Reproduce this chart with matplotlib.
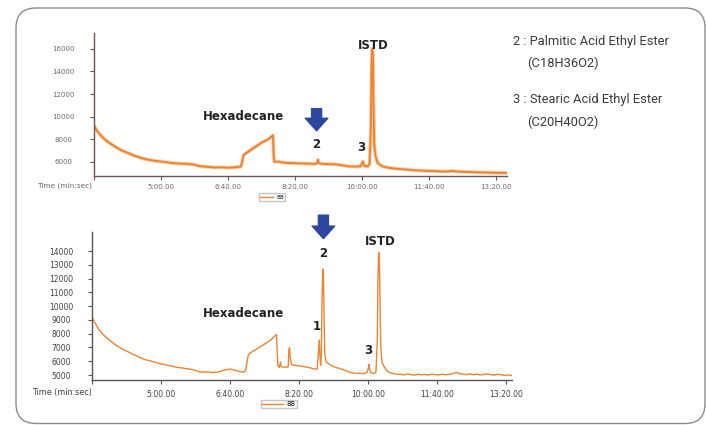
import matplotlib
matplotlib.use("Agg")
import matplotlib.pyplot as plt
from matplotlib.patches import FancyBboxPatch
from matplotlib.lines import Line2D

# ---------------- data (time in seconds, signal in counts) ----------------
top_time = [200, 205, 210, 215, 220, 230, 240, 250, 260, 270, 280, 290, 300, 310,
            320, 330, 340, 350, 355, 360, 370, 380, 390, 400, 410, 419, 421, 423,
            430, 440, 450, 460, 467, 468, 469, 475, 480, 490, 500, 510, 520, 530,
            533, 534, 535, 540, 550, 560, 570, 580, 590, 598, 601, 603, 608, 611,
            613, 614, 615, 616, 617, 618, 620, 623, 630, 640, 650, 660, 670, 680,
            690, 700, 710, 720, 730, 735, 740, 750, 760, 770, 780, 790, 800, 816]
top_signal = [9200, 8700, 8350, 8050, 7800, 7400, 7050, 6800, 6550, 6350, 6200, 6100, 6030, 5950,
              5880, 5840, 5820, 5750, 5650, 5600, 5560, 5500, 5520, 5480, 5520, 5580, 6000, 6600,
              6900, 7300, 7700, 8000, 8340, 6500, 6000, 6030, 5950, 5900, 5880, 5860, 5840, 5820,
              5900, 6180, 5900, 5820, 5800, 5780, 5700, 5600, 5580, 5620, 6030, 5650, 5600, 5800,
              9000, 14500, 16000, 15500, 11000, 7500, 6500, 5900, 5600, 5470, 5400, 5350, 5300, 5250,
              5220, 5200, 5180, 5150, 5160, 5200, 5150, 5120, 5100, 5080, 5060, 5050, 5030, 5020]

bottom_time = [200, 203, 206, 210, 215, 220, 225, 230, 235, 240, 245, 250, 255, 260, 265,
               270, 275, 280, 285, 290, 295, 300, 305, 310, 315, 320, 325, 330, 335, 340,
               345, 350, 355, 360, 365, 370, 375, 380, 385, 390, 395, 400, 405, 410, 415,
               419, 422, 424, 426, 428, 432, 436, 440, 445, 450, 455, 460, 464, 467, 468,
               469, 471, 473, 474, 478, 482, 484, 485, 486, 487, 489, 493, 498, 503, 508,
               513, 518, 523, 526, 528, 529, 530, 531, 532, 533, 534, 535, 536, 537, 539,
               543, 548, 553, 558, 563, 568, 573, 578, 583, 588, 593, 598, 600, 601, 602,
               604, 608, 611, 613, 614, 615, 616, 617, 618, 620, 623, 627, 632, 637, 642,
               647, 652, 657, 662, 667, 672, 677, 682, 687, 692, 697, 702, 707, 712, 717,
               722, 727, 732, 737, 742, 747, 752, 757, 762, 767, 772, 777, 782, 787, 792,
               797, 802, 808]
bottom_signal = [9200, 8900, 8650, 8300, 8000, 7750, 7550, 7340, 7150, 7000, 6850, 6740, 6620, 6480, 6380,
                 6250, 6150, 6080, 6020, 5950, 5880, 5800, 5760, 5700, 5650, 5600, 5540, 5520, 5470, 5440,
                 5400, 5330, 5250, 5200, 5230, 5210, 5180, 5200, 5240, 5330, 5400, 5430, 5380, 5300, 5260,
                 5200, 5300, 5800, 6400, 6550, 6700, 6800, 6950, 7100, 7250, 7420, 7600, 7800, 7950, 7000,
                 5700, 5550, 5950, 5600, 5580, 5560, 5600, 6800, 7000, 6200, 5750, 5700, 5680, 5640, 5600,
                 5550, 5500, 5420, 5450, 6800, 7540, 6400, 5700, 6500, 10500, 12700, 12200, 9000, 6500, 5960,
                 5800, 5650, 5550, 5480, 5400, 5300, 5200, 5150, 5120, 5130, 5100, 5180, 5500, 5770, 5400,
                 5150, 5120, 5200, 7500, 12000, 13900, 13500, 10000, 7000, 5900, 5600, 5300, 5150, 5100, 5050,
                 5050, 5020, 5080, 5030, 5000, 5060, 5020, 5040, 5000, 5070, 5030, 5010, 5060, 5020, 5050,
                 5100, 5190, 5100, 5060, 5030, 5080, 5020, 5060, 5010, 5050, 5080, 5030, 5000, 5060, 5020,
                 4980, 5010, 4960]

x_tick_values = [200, 300, 400, 500, 600, 700, 800]
x_tick_labels = ["", "5:00.00", "6:40.00", "8:20.00", "10:00.00", "11:40.00", "13:20.00"]
top_y_ticks = [6000, 8000, 10000, 12000, 14000, 16000]
bottom_y_ticks = [5000, 6000, 7000, 8000, 9000, 10000, 11000, 12000, 13000, 14000]
legend_label = "88"
axis_title = "Time (min:sec)"
notes = ["2 : Palmitic Acid Ethyl Ester", "(C18H36O2)",
         "3 : Stearic Acid Ethyl Ester", "(C20H40O2)"]

# ---------------- figure ----------------
W, H = 706, 425
fig = plt.figure(figsize=(W / 100, H / 100), dpi=100)
fig.patch.set_facecolor("white")

# rounded frame (inches)
frame = FancyBboxPatch((16 / 100, (H - 423.5) / 100), (705 - 16) / 100, (423.5 - 8) / 100,
                       boxstyle="round,pad=0,rounding_size=0.2",
                       transform=fig.dpi_scale_trans, facecolor="none",
                       edgecolor="#8c8c8c", linewidth=1.0)
fig.patches.append(frame)

ORANGE = "#EC8431"
BLUE = "#2D46A0"
TICKFONT = ["DejaVu Sans"]
LABELFONT = ["DejaVu Sans"]


def px_axes(l, t, r, b):
    return fig.add_axes([l / W, 1 - b / H, (r - l) / W, (b - t) / H])


def style_axes(ax, spine_color, label_color):
    for s in ("top", "right"):
        ax.spines[s].set_visible(False)
    for s in ("left", "bottom"):
        ax.spines[s].set_color(spine_color)
        ax.spines[s].set_linewidth(1.0)
    ax.tick_params(axis="both", colors=spine_color, labelcolor=label_color,
                   labelsize=5.5, length=3, width=0.8)
    for lab in ax.get_xticklabels() + ax.get_yticklabels():
        lab.set_family(TICKFONT)


# ---------- top chart ----------
ax1 = px_axes(94, 33, 507, 176)
ax1.plot(top_time, top_signal, color="#F8D2AE", linewidth=2.8, solid_joinstyle="round")
ax1.plot(top_time, top_signal, color=ORANGE, linewidth=1.4, solid_joinstyle="round")
ax1.set_xlim(200, 816)
ax1.set_ylim(4750, 17400)
ax1.set_xticks(x_tick_values)
ax1.set_xticklabels(x_tick_labels)
ax1.set_yticks(top_y_ticks)
ax1.set_yticklabels([str(v) for v in top_y_ticks])
ax1.tick_params(axis="x", pad=3)
ax1.tick_params(axis="y", pad=19)
style_axes(ax1, "#6e5555", "#6a6a6a")
for lab in ax1.get_yticklabels():
    lab.set_fontsize(5)
    lab.set_horizontalalignment("center")
for lab in ax1.get_xticklabels():
    lab.set_fontsize(5)
ax1.text(-0.005, -0.07, axis_title, transform=ax1.transAxes, ha="right", va="center",
         fontsize=5.3, color="#6a6a6a", family=TICKFONT)
ax1.legend([Line2D([0], [0], color=ORANGE, lw=1.0)], [legend_label], loc="center",
           bbox_to_anchor=(272 / W, 1 - 197 / H), bbox_transform=fig.transFigure,
           fontsize=4.5, frameon=True, fancybox=False, edgecolor="#b8b8b8",
           handlelength=2.2, handletextpad=0.5, borderpad=0.15, borderaxespad=0)

ax1.text(423, 10000, "Hexadecane", ha="center", va="center", fontsize=8.5,
         fontweight="bold", color="#222222", family=LABELFONT)
ax1.text(616, 16300, "ISTD", ha="center", va="center", fontsize=8.5,
         fontweight="bold", color="#222222", family=LABELFONT, clip_on=False)
ax1.text(532, 7510, "2", ha="center", va="center", fontsize=8.5,
         fontweight="bold", color="#222222", family=LABELFONT)
ax1.text(598, 7245, "3", ha="center", va="center", fontsize=8.5,
         fontweight="bold", color="#222222", family=LABELFONT)
ax1.annotate("", xy=(532, 8750), xytext=(532, 10700),
             arrowprops=dict(arrowstyle="simple,head_length=0.75,head_width=1.35,tail_width=0.6",
                             color=BLUE, mutation_scale=12, shrinkA=0, shrinkB=0),
             annotation_clip=False)

# ---------- bottom chart ----------
ax2 = px_axes(92, 232, 512, 380)
ax2.plot(bottom_time, bottom_signal, color=ORANGE, linewidth=1.0, solid_joinstyle="round")
ax2.set_xlim(200, 808)
ax2.set_ylim(4640, 15380)
ax2.set_xticks(x_tick_values)
ax2.set_xticklabels(x_tick_labels)
ax2.set_yticks(bottom_y_ticks)
ax2.set_yticklabels([str(v) for v in bottom_y_ticks])
ax2.tick_params(axis="x", pad=4)
ax2.tick_params(axis="y", pad=19)
style_axes(ax2, "#555555", "#404040")
for lab in ax2.get_yticklabels():
    lab.set_horizontalalignment("center")
ax2.text(-0.0, -0.082, axis_title, transform=ax2.transAxes, ha="right", va="center",
         fontsize=5.8, color="#404040", family=TICKFONT)
ax2.legend([Line2D([0], [0], color=ORANGE, lw=1.0)], [legend_label], loc="center",
           bbox_to_anchor=(279 / W, 1 - 404 / H), bbox_transform=fig.transFigure,
           fontsize=5, frameon=True, fancybox=False, edgecolor="#b8b8b8",
           handlelength=3.0, handletextpad=0.5, borderpad=0.15, borderaxespad=0)

ax2.text(419, 9495, "Hexadecane", ha="center", va="center", fontsize=8.5,
         fontweight="bold", color="#222222", family=LABELFONT)
ax2.text(617, 14715, "ISTD", ha="center", va="center", fontsize=8.5,
         fontweight="bold", color="#222222", family=LABELFONT, clip_on=False)
ax2.text(535, 13845, "2", ha="center", va="center", fontsize=8.5,
         fontweight="bold", color="#222222", family=LABELFONT)
ax2.text(526, 8550, "1", ha="center", va="center", fontsize=8.5,
         fontweight="bold", color="#222222", family=LABELFONT)
ax2.text(600, 6810, "3", ha="center", va="center", fontsize=8.5,
         fontweight="bold", color="#222222", family=LABELFONT)
ax2.annotate("", xy=(535, 14900), xytext=(535, 16600),
             arrowprops=dict(arrowstyle="simple,head_length=0.75,head_width=1.35,tail_width=0.6",
                             color=BLUE, mutation_scale=12, shrinkA=0, shrinkB=0),
             annotation_clip=False)

# ---------- side notes ----------
note_pos = [(513, 42), (527, 63), (513, 100), (527, 122)]
for txt, (x, y) in zip(notes, note_pos):
    fig.text(x / W, 1 - y / H, txt, ha="left", va="center", fontsize=9.3,
             color="#3a3a3a", family=["Roboto", "DejaVu Sans"])

fig.savefig("out.png", dpi=100, facecolor="white")
